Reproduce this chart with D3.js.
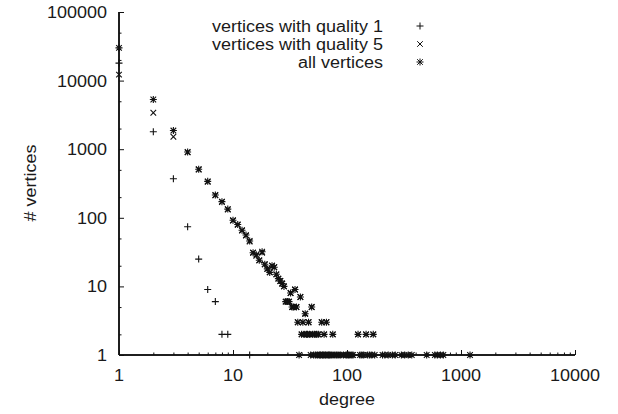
<!DOCTYPE html>
<html>
<head>
<meta charset="utf-8">
<script src="https://cdn.jsdelivr.net/npm/d3@7"></script>
<style>
  html, body { margin: 0; padding: 0; background: #fff; }
  svg { display: block; }
  text { font-family: "Liberation Sans", Arial, Helvetica, sans-serif; fill: #1a1a1a; }
</style>
</head>
<body>
<svg id="chart" width="618" height="414"></svg>
<script>
// ---- data ----
const seriesNames = ["vertices with quality 1", "vertices with quality 5", "all vertices"];

const q1Degrees = [1, 2, 3, 4, 5, 6, 7, 8, 9, 14];
const q1Counts  = [18000, 1800, 370, 74, 25, 9, 6, 2, 2, 1];

const q5Degrees = [1, 2, 3, 4, 5, 6, 7, 8, 9, 10, 11, 12, 13, 14, 15, 16, 17, 18, 19, 20,
                   21, 22, 23, 24, 25, 26, 27, 28, 29, 30, 31, 32, 33, 34, 35, 36, 37, 39, 41, 43,
                   46, 49, 60, 66, 40, 42, 44, 45, 47, 50, 52, 54, 56, 63, 75, 125, 147, 170];
const q5Counts  = [12200, 3400, 1520, 900, 505, 335, 212, 170, 132, 91, 79, 65, 55, 45, 31, 28, 24, 31, 21, 18,
                   16, 20, 19, 15, 13, 12, 11, 10, 6, 6, 6, 8, 5, 5, 9, 5, 3, 7, 3, 4,
                   3, 5, 3, 3, 2, 2, 2, 2, 2, 2, 2, 2, 2, 2, 2, 2, 2, 2];

const allDegrees = [1, 2, 3, 4, 5, 6, 7, 8, 9, 10, 11, 12, 13, 14, 15, 16, 17, 18, 19, 20,
                    21, 22, 23, 24, 25, 26, 27, 28, 29, 30, 31, 32, 33, 34, 35, 36, 37, 39, 41, 43,
                    46, 49, 60, 66,
                    40, 42, 44, 45, 47, 50, 52, 54, 56, 63, 75, 125, 147, 170,
                    38, 48, 51, 53, 55, 57, 58, 59, 61, 62, 64, 65, 67, 69, 70, 72, 74, 77, 80, 82,
                    85, 88, 93, 98, 100, 103, 106, 110, 113, 130, 135, 140, 152, 158, 165, 175,
                    205, 215, 230, 250, 265, 300, 320, 345, 370, 500, 590, 620, 660, 700, 1200];
const allCounts  = [30000, 5300, 1870, 910, 510, 340, 215, 172, 134, 92, 80, 66, 56, 46, 31, 29, 24, 32, 21, 18,
                    16, 20, 19, 15, 13, 12, 11, 10, 6, 6, 6, 8, 5, 5, 9, 5, 3, 7, 3, 4,
                    3, 5, 3, 3,
                    2, 2, 2, 2, 2, 2, 2, 2, 2, 2, 2, 2, 2, 2,
                    1, 1, 1, 1, 1, 1, 1, 1, 1, 1, 1, 1, 1, 1, 1, 1, 1, 1, 1, 1,
                    1, 1, 1, 1, 1, 1, 1, 1, 1, 1, 1, 1, 1, 1, 1, 1,
                    1, 1, 1, 1, 1, 1, 1, 1, 1, 1, 1, 1, 1, 1, 1];

const xTickValues = [1, 10, 100, 1000, 10000];
const xTickLabels = ["1", "10", "100", "1000", "10000"];
const yTickValues = [1, 10, 100, 1000, 10000, 100000];
const yTickLabels = ["1", "10", "100", "1000", "10000", "100000"];
const xLabel = "degree";
const yLabel = "# vertices";

(function () {
// ---- layout ----
const svg = d3.select("#chart");
const mLeft = 119, mRight = 575, mTop = 12, mBottom = 355;
const fontSize = 16;
const stretch = 1.125;   // reference glyphs are a bit wider than they are tall

function widen(sel) {
  sel.each(function () {
    const w = this.getComputedTextLength();
    d3.select(this).attr("textLength", w * stretch).attr("lengthAdjust", "spacingAndGlyphs");
  });
  return sel;
}
// for end/middle anchored text textLength keeps the anchor, so widths grow as in the reference

const x = d3.scaleLog().domain([1, 10000]).range([mLeft, mRight]);
const y = d3.scaleLog().domain([1, 100000]).range([mBottom, mTop]);

// minor ticks
const xMinor = [];
for (let dec = 1; dec < 10000; dec *= 10) for (let m = 2; m <= 9; m++) xMinor.push(dec * m);
const yMinor = [];
for (let dec = 1; dec < 100000; dec *= 10) for (const m of [2, 5]) yMinor.push(dec * m);

const xAxis = d3.axisTop(x).tickValues(xTickValues).tickSize(5).tickFormat("");
const gx = svg.append("g").attr("transform", `translate(0,${mBottom})`).call(xAxis);
const xAxisMinor = d3.axisTop(x).tickValues(xMinor).tickSize(2.5).tickFormat("");
const gx2 = svg.append("g").attr("transform", `translate(0,${mBottom})`).call(xAxisMinor);
[gx, gx2].forEach(g => { g.select(".domain").attr("stroke", "#111").attr("stroke-width", 1.5).attr("d", `M${mLeft},0H${mRight}`); g.selectAll(".tick line").attr("stroke", "#111"); });

const yAxis = d3.axisRight(y).tickValues(yTickValues).tickSize(5).tickFormat("");
const gy = svg.append("g").attr("transform", `translate(${mLeft},0)`).call(yAxis);
const yAxisMinor = d3.axisRight(y).tickValues(yMinor).tickSize(2.5).tickFormat("");
const gy2 = svg.append("g").attr("transform", `translate(${mLeft},0)`).call(yAxisMinor);
[gy, gy2].forEach(g => { g.select(".domain").attr("stroke", "#111").attr("stroke-width", 1.5).attr("d", `M0,${mTop}V${mBottom}`); g.selectAll(".tick line").attr("stroke", "#111"); });

// tick labels
widen(svg.append("g").selectAll("text").data(xTickValues).join("text")
  .attr("x", d => x(d)).attr("y", mBottom + 26)
  .attr("text-anchor", "middle").attr("font-size", fontSize)
  .text((d, i) => xTickLabels[i]));
widen(svg.append("g").selectAll("text").data(yTickValues).join("text")
  .attr("x", mLeft - 12).attr("y", d => y(d) + 6)
  .attr("text-anchor", "end").attr("font-size", fontSize)
  .text((d, i) => yTickLabels[i]));

// axis titles
widen(svg.append("text").attr("x", x(100)).attr("y", 405).attr("text-anchor", "middle")
  .attr("font-size", fontSize).text(xLabel));
widen(svg.append("text").attr("transform", "translate(36,183) rotate(-90)").attr("text-anchor", "middle")
  .attr("font-size", fontSize).text(yLabel));

// markers
function plus(s) { return `M${-s},0H${s}M0,${-s}V${s}`; }
function cross(s) { return `M${-s},${-s}L${s},${s}M${-s},${s}L${s},${-s}`; }
const markerPaths = [plus(3.5), cross(2.8), plus(3.5) + cross(2.8)];

const series = [
  { degrees: q1Degrees, counts: q1Counts },
  { degrees: q5Degrees, counts: q5Counts },
  { degrees: allDegrees, counts: allCounts }
];

series.forEach((s, si) => {
  svg.append("g").attr("fill", "none").attr("stroke", "#111").attr("stroke-width", 1.1)
    .selectAll("path").data(s.degrees.map((d, i) => [d, s.counts[i]])).join("path")
    .attr("transform", d => `translate(${x(d[0])},${y(d[1])})`)
    .attr("d", markerPaths[si]);
});

// legend
const legendY = [26, 44, 62];
const lg = svg.append("g");
seriesNames.forEach((name, i) => {
  widen(lg.append("text").attr("x", 383).attr("y", legendY[i] + 6).attr("text-anchor", "end")
    .attr("font-size", fontSize).text(name));
  lg.append("path").attr("transform", `translate(420,${legendY[i]})`).attr("d", markerPaths[i])
    .attr("fill", "none").attr("stroke", "#111").attr("stroke-width", 1);
});
})();
</script>
</body>
</html>
